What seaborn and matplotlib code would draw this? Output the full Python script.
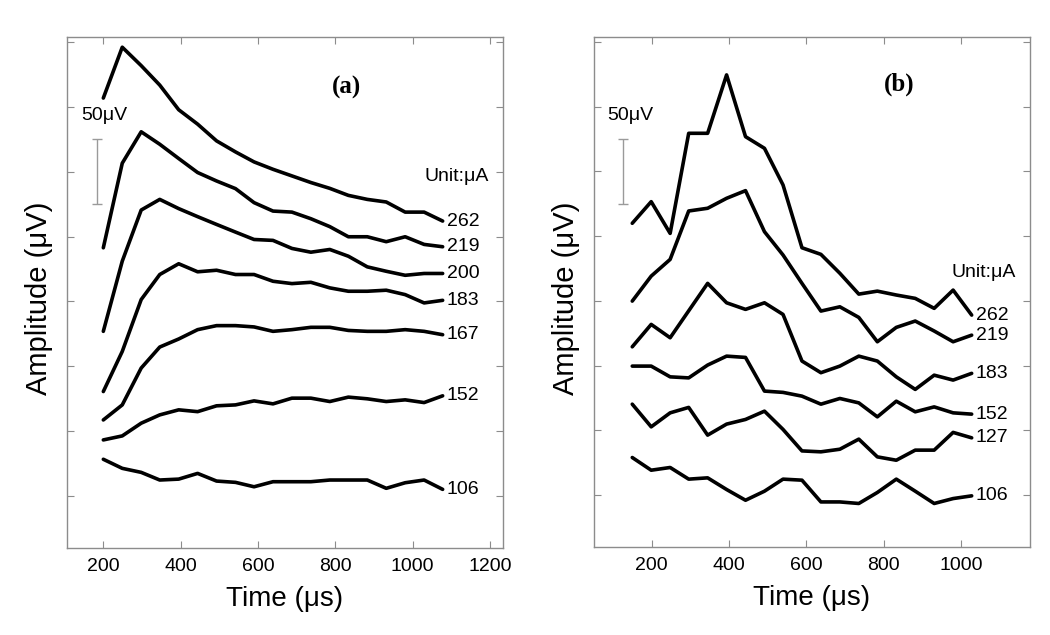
import matplotlib
matplotlib.use("Agg")
import matplotlib.pyplot as plt
import seaborn as sns
import pandas as pd

# ---------------- data ----------------
time_a = [200, 249, 298, 346, 395, 444, 493, 542, 590, 639, 688, 737, 786, 834, 883, 932, 981, 1030, 1078]
time_b = [150, 199, 248, 296, 345, 394, 443, 492, 540, 589, 638, 687, 736, 784, 833, 882, 931, 980, 1028]

labels_a = ["262", "219", "200", "183", "167", "152", "106"]
a_262 = [306.8, 346.0, 331.8, 316.8, 297.8, 286.7, 273.8, 265.3, 257.6, 251.9, 246.8, 241.7, 237.2, 231.8, 228.7, 226.7, 218.9, 218.9, 212.0]
a_219 = [191.4, 256.6, 280.8, 271.2, 260.2, 249.4, 242.9, 237.0, 226.2, 219.7, 218.9, 213.8, 207.7, 199.9, 199.9, 196.1, 199.9, 194.0, 192.2]
a_200 = [127.0, 181.1, 220.5, 228.7, 221.6, 215.4, 209.4, 203.5, 197.8, 197.1, 190.9, 188.0, 190.1, 184.9, 176.7, 173.3, 170.2, 171.6, 171.6]
a_183 = [80.6, 111.5, 151.5, 170.8, 179.1, 172.9, 174.1, 170.8, 170.8, 165.6, 163.8, 164.8, 160.5, 157.9, 157.9, 158.7, 155.3, 148.9, 150.9]
a_167 = [58.7, 70.3, 98.7, 114.9, 121.1, 128.3, 131.4, 131.4, 130.4, 127.0, 128.3, 130.1, 130.1, 127.7, 127.0, 127.0, 128.3, 127.0, 124.4]
a_152 = [43.3, 46.4, 56.2, 62.6, 66.5, 65.1, 69.6, 70.3, 73.4, 71.1, 75.5, 75.5, 72.9, 76.3, 75.0, 72.9, 74.2, 72.1, 77.3]
a_106 = [28.4, 21.4, 18.3, 12.4, 13.1, 17.5, 11.6, 10.6, 7.2, 11.1, 11.1, 11.1, 12.4, 12.4, 12.4, 6.0, 10.3, 12.4, 5.2]

labels_b = ["262", "219", "183", "152", "127", "106"]
b_262 = [210.0, 226.7, 202.2, 279.5, 279.5, 324.6, 276.9, 267.9, 239.6, 191.1, 186.0, 171.4, 155.3, 157.6, 154.6, 152.0, 144.3, 158.4, 139.1]
b_219 = [149.9, 169.2, 182.1, 219.5, 221.6, 229.3, 235.2, 203.5, 185.5, 163.6, 142.2, 145.5, 137.3, 118.5, 129.6, 134.5, 126.8, 118.5, 123.6]
b_183 = [114.6, 131.9, 121.6, 142.4, 163.6, 148.6, 143.5, 148.6, 139.6, 103.6, 94.6, 99.7, 107.4, 103.6, 91.4, 81.7, 92.7, 88.9, 94.1]
b_152 = [99.7, 99.7, 91.4, 90.6, 100.5, 107.4, 106.4, 80.4, 79.4, 76.5, 70.3, 74.7, 71.3, 60.5, 72.6, 64.4, 68.2, 63.6, 62.6]
b_127 = [70.3, 52.8, 63.6, 67.8, 46.4, 54.9, 58.5, 64.9, 50.8, 34.2, 33.5, 35.5, 43.3, 29.6, 27.0, 34.8, 34.8, 48.5, 44.3]
b_106 = [29.1, 19.3, 21.4, 12.4, 13.4, 4.4, -3.9, 3.1, 12.4, 11.6, -5.2, -5.2, -6.4, 2.1, 12.4, 3.1, -6.4, -2.6, -0.5]

series_a = [a_262, a_219, a_200, a_183, a_167, a_152, a_106]
series_b = [b_262, b_219, b_183, b_152, b_127, b_106]

xticks_a = [200, 400, 600, 800, 1000, 1200]
xticks_b = [200, 400, 600, 800, 1000]
yticks = [0, 50, 100, 150, 200, 250, 300, 350]

# ---------------- style ----------------
sns.set_theme(style="ticks")
plt.rcParams["font.family"] = ["Liberation Sans", "DejaVu Sans"]
plt.rcParams["text.color"] = "black"
plt.rcParams["axes.labelcolor"] = "black"

fig = plt.figure(figsize=(10.5, 6.35), dpi=100)
ax_a = fig.add_axes([0.0638, 0.137, 0.4152, 0.805])
ax_b = fig.add_axes([0.5657, 0.1386, 0.4153, 0.8034])

SPINE = "#8c8c8c"


def draw_panel(ax, times, series, labels, xlim, xticks, tag, tag_pos, unit_pos, bar_x, bar_text_x):
    for vals, lab in zip(series, labels):
        df = pd.DataFrame({"t": times, "v": vals})
        sns.lineplot(data=df, x="t", y="v", ax=ax, color="black", lw=2.6,
                     sort=False, estimator=None, legend=False)
        ax.annotate(lab, xy=(times[-1], vals[-1]), xytext=(3, 0),
                    textcoords="offset points", ha="left", va="center",
                    fontsize=14, color="black")
    ax.set_xlim(*xlim)
    ax.set_ylim(-40, 354)
    ax.set_xticks(xticks)
    ax.set_yticks(yticks)
    ax.tick_params(axis="both", which="both", direction="in", length=5, width=0.8,
                   color=SPINE, top=True, right=True, labelleft=False,
                   labelsize=14, labelcolor="black", pad=7)
    for sp in ax.spines.values():
        sp.set_color(SPINE)
        sp.set_linewidth(1.0)
    ax.set_xlabel("Time (\u03bcs)", fontsize=20, color="black")
    ax.set_ylabel("Amplitude (\u03bcV)", fontsize=21, color="black")
    ax.xaxis.set_label_coords(0.5, -0.074)
    ax.yaxis.set_label_coords(-0.033, 0.488)
    # panel tag
    ax.text(tag_pos[0], tag_pos[1], tag, ha="center", va="center",
            fontsize=18, fontweight="bold", family="Liberation Serif", color="black")
    # unit label
    ax.text(unit_pos[0], unit_pos[1], "Unit:\u03bcA", ha="left", va="center",
            fontsize=14, color="black")
    # 50 uV scale bar
    ax.errorbar([bar_x], [250], yerr=[[25], [25]], color="#9a9a9a", lw=1.0,
                capsize=3.5, capthick=1.0)
    ax.text(bar_text_x, 293, "50\u03bcV", ha="center", va="center", fontsize=14,
            color="black")


draw_panel(ax_a, time_a, series_a, labels_a, (106, 1234), xticks_a, "(a)",
           (830, 315), (1030, 246), 183, 203)
draw_panel(ax_b, time_b, series_b, labels_b, (51, 1179), xticks_b, "(b)",
           (840, 317), (977, 172), 125, 146)

fig.savefig("out.png", dpi=100)
